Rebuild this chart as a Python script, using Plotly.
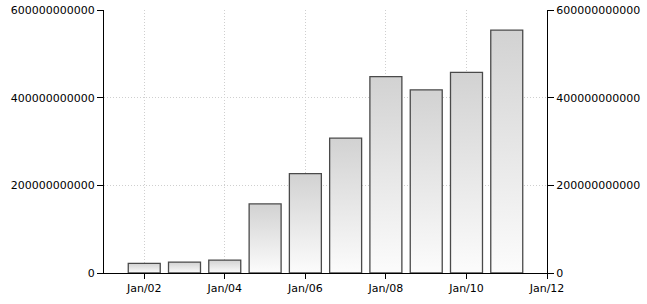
import plotly.graph_objects as go
import pandas as pd

# Data
years = [2002, 2003, 2004, 2005, 2006, 2007, 2008, 2009, 2010, 2011]
values = [22e9, 25e9, 29.5e9, 157.5e9, 226.5e9, 307.5e9, 448e9, 418e9, 457.5e9, 554e9]
tick_years = [2002, 2004, 2006, 2008, 2010, 2012]
tick_labels = ["Jan/02", "Jan/04", "Jan/06", "Jan/08", "Jan/10", "Jan/12"]
y_ticks = [0, 200e9, 400e9, 600e9]
y_labels = ["0", "200000000000", "400000000000", "600000000000"]

half_width = pd.Timedelta(days=145)

fig = go.Figure()
for yr, v in zip(years, values):
    c = pd.Timestamp(year=yr, month=1, day=1)
    x0, x1 = c - half_width, c + half_width
    fig.add_trace(go.Scatter(
        x=[x0, x0, x1, x1, x0],
        y=[0, v, v, 0, 0],
        mode="lines",
        fill="toself",
        fillgradient=dict(type="vertical",
                          colorscale=[[0, "#fcfcfc"], [1, "#d2d2d2"]]),
        line=dict(color="#4a4a4a", width=1.3),
        hoverinfo="skip",
        showlegend=False,
    ))

# invisible trace on right axis
fig.add_trace(go.Scatter(x=[pd.Timestamp(2002, 1, 1)], y=[0], yaxis="y2",
                         mode="markers", marker=dict(opacity=0),
                         showlegend=False, hoverinfo="skip"))

font = dict(family="DejaVu Sans", size=11, color="#000000")
grid = dict(showgrid=True, gridcolor="#cfcfcf", griddash="1px,2px", gridwidth=1)
fig.update_layout(
    width=647, height=304,
    margin=dict(l=104, r=100, t=10, b=31, autoexpand=False),
    paper_bgcolor="white", plot_bgcolor="white",
    font=font,
    showlegend=False,
    xaxis=dict(
        type="date", automargin=False,
        range=[pd.Timestamp(2001, 1, 1), pd.Timestamp(2012, 1, 1)],
        tickvals=[pd.Timestamp(y, 1, 1) for y in tick_years],
        ticktext=tick_labels,
        ticks="outside", ticklen=5, tickcolor="black",
        showline=True, linecolor="black", linewidth=1,
        zeroline=False, tickfont=font, **grid,
    ),
    yaxis=dict(
        range=[0, 600e9], automargin=False,
        tickvals=y_ticks, ticktext=y_labels,
        ticks="outside", ticklen=6, tickcolor="black",
        showline=True, linecolor="black", linewidth=1,
        zeroline=False, tickfont=font, **grid,
    ),
    yaxis2=dict(
        range=[0, 600e9], overlaying="y", side="right", automargin=False,
        tickvals=y_ticks, ticktext=y_labels,
        ticks="outside", ticklen=6, tickcolor="black",
        showline=True, linecolor="black", linewidth=1,
        showgrid=False, zeroline=False, tickfont=font,
    ),
)

fig.write_html("out.html")
